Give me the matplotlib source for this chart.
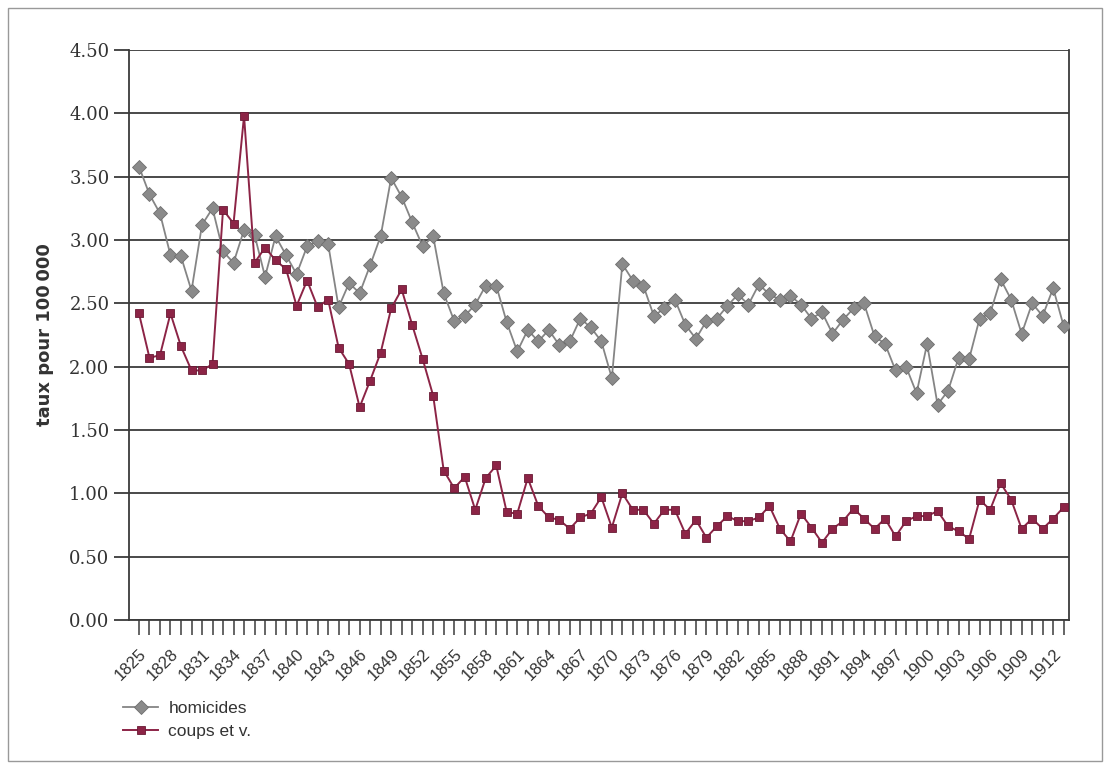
import numpy as np
import matplotlib
matplotlib.use("Agg")
import matplotlib.pyplot as plt
from matplotlib.patches import Rectangle

# années (une par point)
annees = list(range(1825, 1914))

# taux pour 100 000
homicides = [3.58, 3.36, 3.21, 2.88, 2.87, 2.60, 3.12, 3.25, 2.91, 2.82,
             3.08, 3.04, 2.71, 3.03, 2.88, 2.73, 2.95, 2.99, 2.97, 2.47,
             2.66, 2.58, 2.80, 3.03, 3.49, 3.34, 3.14, 2.95, 3.03, 2.58,
             2.36, 2.40, 2.49, 2.64, 2.64, 2.35, 2.12, 2.29, 2.20, 2.29,
             2.17, 2.20, 2.38, 2.31, 2.20, 1.91, 2.81, 2.68, 2.64, 2.40,
             2.46, 2.53, 2.33, 2.22, 2.36, 2.38, 2.48, 2.57, 2.49, 2.65,
             2.57, 2.53, 2.56, 2.49, 2.38, 2.43, 2.26, 2.37, 2.46, 2.50,
             2.24, 2.18, 1.97, 2.00, 1.79, 2.18, 1.70, 1.81, 2.07, 2.06,
             2.38, 2.42, 2.69, 2.53, 2.26, 2.50, 2.40, 2.62, 2.32]

coups = [2.42, 2.07, 2.09, 2.42, 2.16, 1.97, 1.97, 2.02, 3.24, 3.13,
         3.98, 2.82, 2.94, 2.84, 2.77, 2.48, 2.68, 2.47, 2.53, 2.15,
         2.02, 1.68, 1.89, 2.11, 2.46, 2.61, 2.33, 2.06, 1.77, 1.18,
         1.04, 1.13, 0.87, 1.12, 1.22, 0.85, 0.84, 1.12, 0.90, 0.81,
         0.79, 0.72, 0.81, 0.84, 0.97, 0.73, 1.00, 0.87, 0.87, 0.76,
         0.87, 0.87, 0.68, 0.79, 0.65, 0.74, 0.82, 0.78, 0.78, 0.81,
         0.90, 0.72, 0.62, 0.84, 0.73, 0.61, 0.72, 0.78, 0.88, 0.80,
         0.72, 0.80, 0.66, 0.78, 0.82, 0.82, 0.86, 0.74, 0.70, 0.64,
         0.95, 0.87, 1.08, 0.95, 0.72, 0.80, 0.72, 0.80, 0.89]

yticks = [0.0, 0.5, 1.0, 1.5, 2.0, 2.5, 3.0, 3.5, 4.0, 4.5]

gris = "#858585"
bordeaux = "#8c2446"
trait = "#3a3a3a"

fig = plt.figure(figsize=(11.1, 7.67), dpi=100)
ax = fig.add_axes([0.1162, 0.1917, 0.8468, 0.7431])

x = np.arange(len(annees))

# grille horizontale
for v in yticks:
    ax.axhline(v, color=trait, lw=1.3, zorder=1)

ax.plot(x, homicides, color=gris, lw=1.3, marker="D", markersize=7,
        markerfacecolor="#8a8a8a", markeredgecolor="#6e6e6e", markeredgewidth=0.6,
        label="homicides", zorder=3)
ax.plot(x, coups, color=bordeaux, lw=1.4, marker="s", markersize=5.5,
        markerfacecolor=bordeaux, markeredgecolor="#6a1a35", markeredgewidth=0.6,
        label="coups et v.", zorder=4)

ax.set_xlim(-0.95, len(annees) - 1 + 0.5)
ax.set_ylim(0, 4.5)

ax.set_yticks(yticks)
ax.set_yticklabels(["%.2f" % v for v in yticks], family="DejaVu Serif",
                   fontsize=13, color="#333333")
ax.set_xticks(x)
ax.set_xticklabels([str(a) if (a - 1825) % 3 == 0 else "" for a in annees],
                   rotation=45, ha="right", rotation_mode="anchor",
                   family="Liberation Sans", fontsize=12, color="#333333")
ax.tick_params(axis="x", direction="out", length=11, width=1.1, color=trait, pad=8)
ax.tick_params(axis="y", direction="out", length=11, width=1.3, color=trait, pad=3)

for s in ["left", "right", "bottom", "top"]:
    ax.spines[s].set_color(trait)
    ax.spines[s].set_linewidth(1.3)
ax.spines["top"].set_visible(False)

ax.set_ylabel("taux pour 100\u2009000", fontsize=13, fontweight="bold",
              family="DejaVu Sans", color="#333333", labelpad=11)

fig.legend(loc="upper left", bbox_to_anchor=(0.097, 0.107), frameon=False,
           prop={"family": "Liberation Sans", "size": 12.5}, handlelength=2.0,
           labelspacing=0.45, handletextpad=0.6, labelcolor="#333333")

# cadre autour de la figure
fig.patches.append(Rectangle((0.007, 0.008), 0.986, 0.982, transform=fig.transFigure,
                             fill=False, edgecolor="#999999", lw=1.0))

fig.savefig("out.png", dpi=100)
